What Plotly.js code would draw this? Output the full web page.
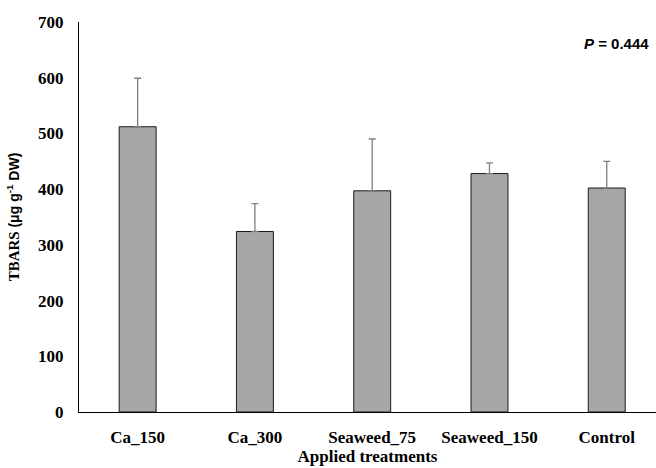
<!DOCTYPE html>
<html><head><meta charset="utf-8">
<script src="https://cdn.plot.ly/plotly-3.0.1.min.js"></script>
<style>html,body{margin:0;padding:0;background:#fff}</style>
</head><body>
<div id="chart" style="width:656px;height:468px"></div>
<script>
const categories = ["Ca_150", "Ca_300", "Seaweed_75", "Seaweed_150", "Control"];
const means = [512, 324, 397, 428, 402];
const errors = [87, 50, 93, 19, 48];
const yTicks = [0, 100, 200, 300, 400, 500, 600, 700];

const serif = "Liberation Serif, Times New Roman, serif";
const trace = {
  type: "bar",
  x: categories,
  y: means,
  width: 0.315,
  marker: {color: "#a6a6a6", line: {color: "#1a1a1a", width: 1}},
  error_y: {type: "data", symmetric: false, array: errors, arrayminus: errors.map(() => 0),
            color: "#7f7f7f", thickness: 1.3, width: 3.5},
  hoverinfo: "none"
};
const layout = {
  width: 656, height: 468,
  margin: {l: 79, r: 0, t: 22, b: 56},
  paper_bgcolor: "#fff", plot_bgcolor: "#fff",
  showlegend: false,
  xaxis: {
    type: "category", range: [-0.5, 4.42],
    showline: true, linecolor: "#000", linewidth: 1,
    showgrid: false, ticks: "", zeroline: false,
    tickfont: {family: serif, size: 17, color: "#000", weight: "bold"},
    ticklabelstandoff: 10,
    title: {text: "<b>Applied treatments</b>", font: {family: serif, size: 17, color: "#000"}, standoff: 2}
  },
  yaxis: {
    range: [0, 700], tickvals: yTicks, ticktext: yTicks.map(String),
    showline: true, linecolor: "#000", linewidth: 1,
    showgrid: false, ticks: "", zeroline: false,
    tickfont: {family: serif, size: 17, color: "#000", weight: "bold"},
    ticklabelstandoff: 11,
    title: {text: "<b>TBARS </b><span style='font-family:Liberation Sans, Arial, sans-serif;font-size:14px'><b>(μg g<sup>-1</sup> DW)</b></span>",
            font: {family: serif, size: 15, color: "#000"}, standoff: 14}
  },
  annotations: [{
    xref: "paper", yref: "paper", x: 0.991, y: 0.946, xanchor: "right", yanchor: "middle",
    showarrow: false,
    text: "<b><i>P</i> = 0.444</b>",
    font: {family: "Liberation Sans, Arial, sans-serif", size: 15, color: "#000"}
  }]
};
Plotly.newPlot("chart", [trace], layout, {displayModeBar: false, staticPlot: true});
</script>
</body></html>
